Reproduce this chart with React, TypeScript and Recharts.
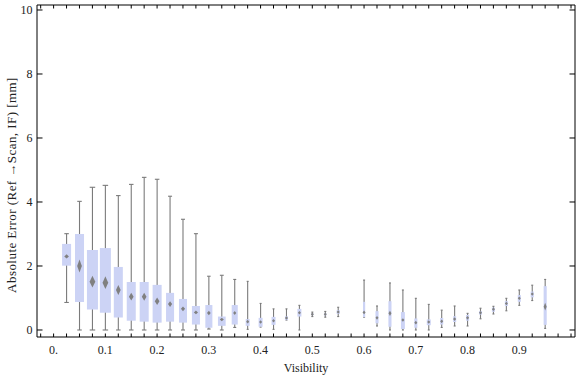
import React from "react";
import { ComposedChart, Bar, XAxis, YAxis } from "recharts";

const FONT = "'Liberation Serif', 'Times New Roman', serif";

// one box per visibility bin (no data at 0.575)
const visibility = [
  0.025, 0.05, 0.075, 0.1, 0.125, 0.15, 0.175, 0.2, 0.225, 0.25, 0.275, 0.3,
  0.325, 0.35, 0.375, 0.4, 0.425, 0.45, 0.475, 0.5, 0.525, 0.55, 0.6, 0.625,
  0.65, 0.675, 0.7, 0.725, 0.75, 0.775, 0.8, 0.825, 0.85, 0.875, 0.9, 0.925,
  0.95,
];
const whiskerLow = [
  0.86, 0, 0, 0, 0, 0, 0, 0, 0, 0, 0, 0.03, 0, 0.08, 0.02, 0.09, 0.02, 0.31,
  0, 0.42, 0.4, 0.42, 0.4, 0.125, 0, 0, 0, 0, 0.08, 0.125, 0.125, 0.35, 0.5,
  0.6, 0.77, 0.92, 0.05,
];
const lowerQuartile = [
  2.01, 0.875, 0.64, 0.54, 0.39, 0.29, 0.26, 0.23, 0.26, 0.23, 0.17, 0.07,
  0.13, 0.17, 0.13, 0.1, 0.16, 0.31, 0.42, 0.46, 0.45, 0.5, 0.4, 0.21, 0.1,
  0.03, 0.07, 0.15, 0.17, 0.25, 0.29, 0.48, 0.57, 0.75, 0.88, 1.02, 0.16,
];
const medianError = [
  2.3, 2.0, 1.51, 1.48, 1.25, 1.04, 1.04, 0.9, 0.81, 0.66, 0.55, 0.53, 0.33,
  0.53, 0.26, 0.25, 0.29, 0.375, 0.54, 0.49, 0.49, 0.56, 0.55, 0.38, 0.52,
  0.31, 0.23, 0.25, 0.27, 0.34, 0.38, 0.54, 0.65, 0.83, 0.99, 1.125, 0.73,
];
const upperQuartile = [
  2.69, 3.0, 2.5, 2.56, 1.97, 1.5, 1.5, 1.41, 1.16, 0.97, 0.75, 0.78, 0.42,
  0.78, 0.34, 0.38, 0.41, 0.43, 0.66, 0.52, 0.53, 0.62, 0.88, 0.59, 0.9, 0.56,
  0.36, 0.33, 0.375, 0.43, 0.47, 0.59, 0.7, 0.9, 1.09, 1.2, 1.37,
];
const whiskerHigh = [
  3.01, 4.02, 4.46, 4.52, 4.2, 4.55, 4.77, 4.71, 4.18, 3.46, 3.01, 1.68, 1.71,
  1.58, 1.52, 0.83, 0.66, 0.66, 0.77, 0.56, 0.58, 0.71, 1.56, 0.75, 1.47,
  1.25, 0.99, 0.8, 0.62, 0.75, 0.52, 0.68, 0.74, 0.99, 1.25, 1.4, 1.58,
];
// relative sample size of each bin (drives the box width)
const sampleWeight = [
  0.82, 0.82, 1, 1, 0.82, 0.82, 0.82, 0.82, 0.73, 0.73, 0.73, 0.64, 0.7, 0.55,
  0.36, 0.36, 0.36, 0.28, 0.36, 0.2, 0.2, 0.28, 0.2, 0.28, 0.28, 0.36, 0.28,
  0.36, 0.28, 0.28, 0.28, 0.28, 0.28, 0.28, 0.28, 0.28, 0.28,
];

const xTicks = Array.from({ length: 42 }, (_, i) => ((i - 1) * 25) / 1000);
const yMajorTicks = [0, 2, 4, 6, 8, 10];
const yMinorTicks = Array.from({ length: 21 }, (_, i) => i / 2);

const data = visibility.map((x, i) => ({
  x,
  lo: whiskerLow[i],
  q1: lowerQuartile[i],
  med: medianError[i],
  q3: upperQuartile[i],
  hi: whiskerHigh[i],
  w: sampleWeight[i],
}));

const fmtX = (v: number) => {
  const t = v * 10;
  if (v < 0 || v > 0.95 || Math.abs(t - Math.round(t)) > 1e-6) return "";
  return v === 0 ? "0." : v.toFixed(1);
};
const blank = () => "";

const BoxWhisker = (props: any) => {
  const { x, y, width, height, payload } = props;
  if (payload == null || height == null) return null;
  const { lo, q1, med, q3, hi, w } = payload;
  const k = hi > lo ? height / (hi - lo) : 0;
  const py = (v: number) => y + (hi - v) * k;
  const cx = x + width / 2;
  const bw = Math.max(2, width * w);
  const cap = Math.max(2, bw * 0.5);
  const dw = Math.max(1.5, bw * 0.26);
  const dh = Math.min(6.5, Math.max(1.8, (q3 - q1) * k * 0.1));
  const my = py(med);
  const gray = "#7b7b7b";
  return (
    <g>
      <line x1={cx} x2={cx} y1={py(hi)} y2={py(lo)} stroke={gray} strokeWidth={1.1} />
      <line x1={cx - cap / 2} x2={cx + cap / 2} y1={py(hi)} y2={py(hi)} stroke={gray} strokeWidth={1.1} />
      <line x1={cx - cap / 2} x2={cx + cap / 2} y1={py(lo)} y2={py(lo)} stroke={gray} strokeWidth={1.1} />
      <rect x={cx - bw / 2} y={py(q3)} width={bw} height={Math.max(1, py(q1) - py(q3))} fill="#ccd3f5" />
      <path
        d={`M${cx},${my - dh} L${cx + dw},${my} L${cx},${my + dh} L${cx - dw},${my} Z`}
        fill="#808080"
      />
    </g>
  );
};

const YLabel = (props: any) => {
  const vb = props.viewBox || { x: 0, y: 5, width: 37, height: 332 };
  const cx = vb.x + 11;
  const cy = vb.y + vb.height / 2 + 14;
  return (
    <text
      x={cx}
      y={cy}
      transform={`rotate(-90 ${cx} ${cy})`}
      textAnchor="middle"
      dominantBaseline="central"
      fontFamily={FONT}
      fontSize={13}
      letterSpacing={0.45}
      fill="#222"
    >
      Absolute Error (Ref →Scan, IF) [mm]
    </text>
  );
};

const tickStyle = { fill: "#222", fontSize: 12, fontFamily: FONT };
const X_DOMAIN: [number, number] = [-0.0321, 1.0077];
const Y_DOMAIN: [number, number] = [-0.219, 10.156];

export default function App() {
  return (
    <div style={{ position: "fixed", left: 0, top: 0, width: 576, height: 377, background: "#fff" }}>
      <ComposedChart width={576} height={377} data={data} margin={{ top: 0, right: 0, bottom: 0, left: 0 }}>
        <XAxis
          xAxisId="b"
          dataKey="x"
          type="number"
          domain={X_DOMAIN}
          allowDataOverflow
          ticks={xTicks}
          interval={0}
          tickSize={-3.5}
          tickMargin={11.5}
          height={40}
          tickFormatter={fmtX}
          stroke="#000"
          tick={tickStyle}
          label={{ value: "Visibility", position: "insideBottom", offset: 5, fill: "#222", fontSize: 12, fontFamily: FONT }}
        />
        <XAxis
          xAxisId="t"
          dataKey="x"
          orientation="top"
          type="number"
          domain={X_DOMAIN}
          allowDataOverflow
          ticks={xTicks}
          interval={0}
          tickSize={-3.5}
          height={5}
          tickFormatter={blank}
          stroke="#000"
          tick={tickStyle}
        />
        <YAxis
          yAxisId="l"
          type="number"
          domain={Y_DOMAIN}
          allowDataOverflow
          ticks={yMajorTicks}
          interval={0}
          tickSize={-5.5}
          tickMargin={10}
          width={37}
          stroke="#000"
          tick={tickStyle}
          label={<YLabel />}
        />
        <YAxis
          yAxisId="lm"
          type="number"
          mirror
          domain={Y_DOMAIN}
          allowDataOverflow
          ticks={yMinorTicks}
          interval={0}
          tickSize={3.5}
          width={0}
          axisLine={false}
          tickFormatter={blank}
          stroke="#000"
          tick={tickStyle}
        />
        <YAxis
          yAxisId="r"
          orientation="right"
          type="number"
          domain={Y_DOMAIN}
          allowDataOverflow
          ticks={yMajorTicks}
          interval={0}
          tickSize={-5.5}
          width={1}
          tickFormatter={blank}
          stroke="#000"
          tick={tickStyle}
        />
        <YAxis
          yAxisId="rm"
          orientation="right"
          type="number"
          mirror
          domain={Y_DOMAIN}
          allowDataOverflow
          ticks={yMinorTicks}
          interval={0}
          tickSize={3.5}
          width={0}
          axisLine={false}
          tickFormatter={blank}
          stroke="#000"
          tick={tickStyle}
        />
        <Bar
          xAxisId="b"
          yAxisId="l"
          dataKey={(d: any) => [d.lo, d.hi]}
          barSize={11}
          shape={<BoxWhisker />}
          isAnimationActive={false}
        />
      </ComposedChart>
    </div>
  );
}
